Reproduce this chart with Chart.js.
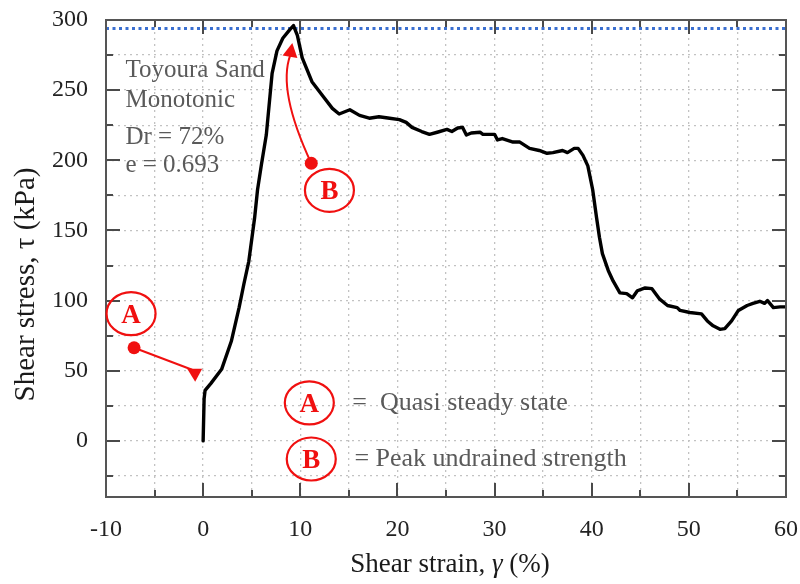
<!DOCTYPE html>
<html><head><meta charset="utf-8">
<script src="https://cdn.jsdelivr.net/npm/chart.js@4.4.1/dist/chart.umd.min.js"></script>
<style>html,body{margin:0;padding:0;background:#fff}#wrap{width:800px;height:584px}</style>
</head><body><div id="wrap"><canvas id="c" width="800" height="584"></canvas></div>
<script>
// ---- data ----
const strain = [0, 0.1, 0.2, 0.8, 1.9, 2.9, 3.7, 4.2, 4.7, 5.3, 5.6, 6.0, 6.5, 7.1, 7.6, 8.2, 8.9, 9.3,
  9.7, 10.2, 11.2, 12.3, 13.3, 14.0, 15.1, 16.1, 17.1, 18.1, 19.2, 20.2, 20.9, 21.5, 22.5, 23.3, 24.1,
  25.1, 25.6, 26.2, 26.7, 27.1, 27.6, 28.5, 28.8, 30.0, 30.3, 30.8, 31.9, 32.6, 33.6, 34.6, 35.4, 36.0,
  37.0, 37.5, 38.2, 38.6, 39.1, 39.6, 40.1, 40.5, 40.8, 41.1, 41.7, 42.2, 42.9, 43.6, 44.2, 44.7, 45.5,
  46.2, 47.0, 47.8, 48.8, 49.1, 50.1, 51.3, 51.9, 52.5, 53.2, 53.7, 54.4, 55.1, 56.0, 56.6, 57.3, 57.8,
  58.1, 58.7, 59.4, 60.0];
const stress = [0, 30, 36, 41, 51, 71, 95, 112, 128, 159, 179, 197, 218, 262, 278, 287, 293, 296,
  289, 273, 256, 246, 237, 233, 236, 232, 230, 231, 230, 229, 227, 223.5, 220.5, 218.5, 220,
  222, 220.5, 223, 223.5, 218, 219.5, 220, 218.5, 218.5, 214.5, 215.5, 213, 213, 208.5, 207, 205, 205.5,
  207, 205.5, 208.5, 208.5, 203.5, 196, 179, 159, 145, 133.5, 121.5, 114, 105.5, 105, 102, 107, 109,
  108.5, 101, 96.5, 95, 93, 91.5, 90.5, 85.5, 82, 79.5, 80, 85.5, 93, 96.5, 98, 99.5, 98,
  100, 95, 95.5, 95.5];
const peakStress = 294;
const xTickValues = [-10, -5, 0, 5, 10, 15, 20, 25, 30, 35, 40, 45, 50, 55, 60];
const yTickValues = [-25, 0, 25, 50, 75, 100, 125, 150, 175, 200, 225, 250, 275, 300];
const infoLines = ['Toyoura Sand', 'Monotonic', 'Dr = 72%', 'e = 0.693'];
const legendTexts = ['=  Quasi steady state', '= Peak undrained strength'];
const xTitleParts = ['Shear strain, ', '\u03B3', ' (%)'];
const yTitle = 'Shear stress, \u03C4 (kPa)';

// ---- annotation placement (data units) ----
const ann = {
  info: { x: -8.0, ys: [264, 243, 216, 196] },
  A: { circle: [-7.42, 90.7], dot: [-7.11, 66.4], end: [-1.13, 50.7], tip: [-0.82, 42.1] },
  B: { circle: [13.0, 178.6], dot: [11.13, 197.9], ctrl: [7.63, 250], end: [8.97, 275], tip: [9.18, 283.6] },
  legA: { circle: [10.93, 27.1], text: [15.36, 27.1] },
  legB: { circle: [11.13, -12.9], text: [15.57, -12.9] }
};

const SERIF = '"Liberation Serif", "Times New Roman", serif';
const RED = '#f01010';

const overlay = {
  id: 'overlay',
  afterDatasetsDraw(chart) {
    const ctx = chart.ctx, xs = chart.scales.x, ys = chart.scales.y, a = chart.chartArea;
    const P = (p) => [xs.getPixelForValue(p[0]), ys.getPixelForValue(p[1])];
    ctx.save();
    // inward tick marks on four sides
    ctx.strokeStyle = '#4a4a4a'; ctx.lineWidth = 2;
    ctx.beginPath();
    xTickValues.forEach(v => {
      const px = Math.round(xs.getPixelForValue(v));
      const L = (v % 10 === 0) ? 14 : 7;
      ctx.moveTo(px, a.bottom); ctx.lineTo(px, a.bottom - L);
      ctx.moveTo(px, a.top); ctx.lineTo(px, a.top + L);
    });
    yTickValues.forEach(v => {
      const py = Math.round(ys.getPixelForValue(v));
      const L = (v % 50 === 0) ? 14 : 7;
      ctx.moveTo(a.left, py); ctx.lineTo(a.left + L, py);
      ctx.moveTo(a.right, py); ctx.lineTo(a.right - L, py);
    });
    ctx.stroke();
    ctx.strokeStyle = '#555'; ctx.lineWidth = 2;
    ctx.strokeRect(a.left, a.top, a.right - a.left, a.bottom - a.top);

    // info text
    ctx.fillStyle = '#5a5a5a';
    ctx.font = '25px ' + SERIF;
    ctx.textAlign = 'left'; ctx.textBaseline = 'middle';
    infoLines.forEach((t, i) => {
      const [px, py] = P([ann.info.x, ann.info.ys[i]]);
      ctx.fillText(t, px, py);
    });

    // circled letters
    const circ = (c, letter) => {
      const [cx, cy] = P(c);
      ctx.strokeStyle = RED; ctx.lineWidth = 2.2;
      ctx.beginPath(); ctx.ellipse(cx, cy, 24.5, 21.5, 0, 0, Math.PI * 2); ctx.stroke();
      ctx.fillStyle = RED; ctx.font = 'bold 27px ' + SERIF;
      ctx.textAlign = 'center'; ctx.textBaseline = 'middle';
      ctx.fillText(letter, cx, cy + 2);
    };
    circ(ann.A.circle, 'A');
    circ(ann.B.circle, 'B');
    circ(ann.legA.circle, 'A');
    circ(ann.legB.circle, 'B');

    // arrow A
    ctx.strokeStyle = RED; ctx.fillStyle = RED; ctx.lineWidth = 2;
    let [dx, dy] = P(ann.A.dot);
    ctx.beginPath(); ctx.arc(dx, dy, 6.5, 0, Math.PI * 2); ctx.fill();
    let [ex, ey] = P(ann.A.end);
    ctx.beginPath(); ctx.moveTo(dx, dy); ctx.lineTo(ex, ey); ctx.stroke();
    let [tx, ty] = P(ann.A.tip);
    ctx.beginPath(); ctx.moveTo(tx - 8, ty - 13); ctx.lineTo(tx + 7, ty - 13); ctx.lineTo(tx, ty); ctx.closePath(); ctx.fill();

    // arrow B
    [dx, dy] = P(ann.B.dot);
    ctx.beginPath(); ctx.arc(dx, dy, 6.5, 0, Math.PI * 2); ctx.fill();
    const [qx, qy] = P(ann.B.ctrl);
    [ex, ey] = P(ann.B.end);
    ctx.beginPath(); ctx.moveTo(dx, dy); ctx.quadraticCurveTo(qx, qy, ex, ey); ctx.stroke();
    [tx, ty] = P(ann.B.tip);
    const ang = Math.atan2(ty - ey, tx - ex);
    const hl = 14, hw = 7.5;
    const bx = tx - hl * Math.cos(ang), by = ty - hl * Math.sin(ang);
    ctx.beginPath();
    ctx.moveTo(tx, ty);
    ctx.lineTo(bx + hw * Math.sin(ang), by - hw * Math.cos(ang));
    ctx.lineTo(bx - hw * Math.sin(ang), by + hw * Math.cos(ang));
    ctx.closePath(); ctx.fill();

    // legend texts
    ctx.fillStyle = '#5a5a5a'; ctx.font = '26px ' + SERIF;
    ctx.textAlign = 'left'; ctx.textBaseline = 'middle';
    let [lx, ly] = P(ann.legA.text); ctx.fillText(legendTexts[0], lx, ly);
    [lx, ly] = P(ann.legB.text); ctx.fillText(legendTexts[1], lx, ly);

    // x axis title (italic gamma)
    ctx.fillStyle = '#1a1a1a';
    const fonts = ['27px ' + SERIF, 'italic 27px ' + SERIF, '27px ' + SERIF];
    const widths = xTitleParts.map((t, i) => { ctx.font = fonts[i]; return ctx.measureText(t).width; });
    const total = widths.reduce((s, w) => s + w, 0);
    let cx = (a.left + a.right) / 2 + 4 - total / 2;
    ctx.textAlign = 'left'; ctx.textBaseline = 'middle';
    xTitleParts.forEach((t, i) => { ctx.font = fonts[i]; ctx.fillText(t, cx, 565); cx += widths[i]; });

    // y axis title
    ctx.save();
    ctx.translate(26, (a.top + a.bottom) / 2 + 26);
    ctx.rotate(-Math.PI / 2);
    ctx.font = '29px ' + SERIF;
    ctx.textAlign = 'center';
    ctx.fillText(yTitle, 0, 0);
    ctx.restore();
    ctx.restore();
  }
};

const zeroPad = s => { s.paddingTop = 0; s.paddingBottom = 0; s.paddingLeft = 0; s.paddingRight = 0; };
const tickFont = { family: SERIF, size: 24 };
new Chart(document.getElementById('c'), {
  type: 'scatter',
  data: {
    datasets: [
      {
        data: strain.map((x, i) => ({ x, y: stress[i] })),
        showLine: true, borderColor: '#000', borderWidth: 3.4, pointRadius: 0, tension: 0,
        borderJoinStyle: 'round', borderCapStyle: 'round'
      },
      {
        data: [{ x: -10, y: peakStress }, { x: 60, y: peakStress }],
        showLine: true, borderColor: '#3a6fd0', borderWidth: 3, pointRadius: 0,
        borderDash: [3, 3.5], borderCapStyle: 'butt'
      }
    ]
  },
  options: {
    responsive: false, animation: false, devicePixelRatio: 1,
    layout: { padding: { top: 20, right: 14, left: 0, bottom: 0 } },
    plugins: { legend: { display: false }, tooltip: { enabled: false } },
    scales: {
      x: {
        type: 'linear', min: -10, max: 60,
        afterBuildTicks: s => { s.ticks = xTickValues.map(v => ({ value: v })); },
        afterFit: s => { s.height = 87; zeroPad(s); },
        ticks: { callback: v => (v % 10 === 0 ? String(v) : ''), font: tickFont, color: '#222', padding: 18, maxRotation: 0, autoSkip: false },
        grid: { color: '#c2c2c2', lineWidth: 1.3, drawTicks: false },
        border: { display: false, dash: [2, 4] }
      },
      y: {
        type: 'linear', min: -40, max: 300,
        afterBuildTicks: s => { s.ticks = yTickValues.map(v => ({ value: v })); },
        afterFit: s => { s.width = 106; zeroPad(s); },
        ticks: { callback: v => (v % 50 === 0 ? String(v) : ''), font: tickFont, color: '#222', padding: 18, autoSkip: false },
        grid: { color: '#c2c2c2', lineWidth: 1.3, drawTicks: false },
        border: { display: false, dash: [2, 4] }
      }
    }
  },
  plugins: [overlay]
});
</script>
</body></html>
